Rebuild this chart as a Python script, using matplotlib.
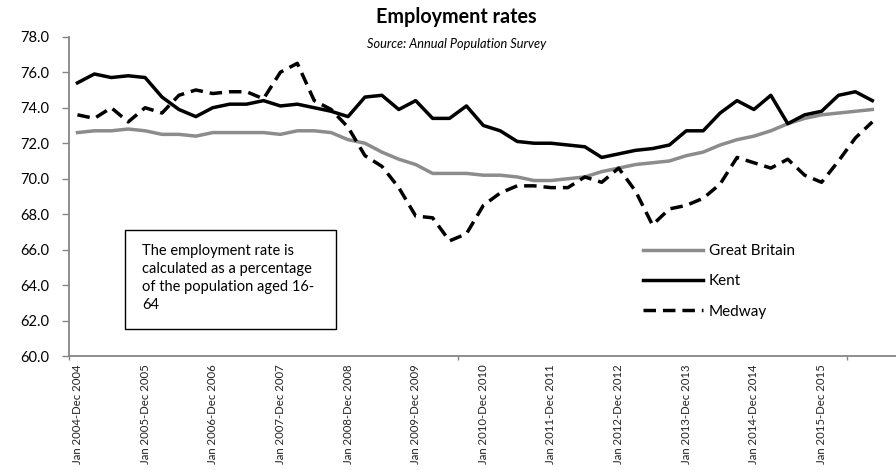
import matplotlib
matplotlib.use("Agg")
import matplotlib.pyplot as plt
from matplotlib.ticker import FixedLocator, FormatStrFormatter

plt.rcParams['font.family'] = ['Lato', 'DejaVu Sans']

categories = [
    "Jan 2004-Dec 2004", "Apr 2004-Mar 2005", "Jul 2004-Jun 2005", "Oct 2004-Sep 2005",
    "Jan 2005-Dec 2005", "Apr 2005-Mar 2006", "Jul 2005-Jun 2006", "Oct 2005-Sep 2006",
    "Jan 2006-Dec 2006", "Apr 2006-Mar 2007", "Jul 2006-Jun 2007", "Oct 2006-Sep 2007",
    "Jan 2007-Dec 2007", "Apr 2007-Mar 2008", "Jul 2007-Jun 2008", "Oct 2007-Sep 2008",
    "Jan 2008-Dec 2008", "Apr 2008-Mar 2009", "Jul 2008-Jun 2009", "Oct 2008-Sep 2009",
    "Jan 2009-Dec 2009", "Apr 2009-Mar 2010", "Jul 2009-Jun 2010", "Oct 2009-Sep 2010",
    "Jan 2010-Dec 2010", "Apr 2010-Mar 2011", "Jul 2010-Jun 2011", "Oct 2010-Sep 2011",
    "Jan 2011-Dec 2011", "Apr 2011-Mar 2012", "Jul 2011-Jun 2012", "Oct 2011-Sep 2012",
    "Jan 2012-Dec 2012", "Apr 2012-Mar 2013", "Jul 2012-Jun 2013", "Oct 2012-Sep 2013",
    "Jan 2013-Dec 2013", "Apr 2013-Mar 2014", "Jul 2013-Jun 2014", "Oct 2013-Sep 2014",
    "Jan 2014-Dec 2014", "Apr 2014-Mar 2015", "Jul 2014-Jun 2015", "Oct 2014-Sep 2015",
    "Jan 2015-Dec 2015", "Apr 2015-Mar 2016", "Jul 2015-Jun 2016", "Oct 2015-Sep 2016",
]

great_britain = [72.6, 72.7, 72.7, 72.8, 72.7, 72.5, 72.5, 72.4, 72.6, 72.6, 72.6, 72.6,
                 72.5, 72.7, 72.7, 72.6, 72.2, 72.0, 71.5, 71.1, 70.8, 70.3, 70.3, 70.3,
                 70.2, 70.2, 70.1, 69.9, 69.9, 70.0, 70.1, 70.4, 70.6, 70.8, 70.9, 71.0,
                 71.3, 71.5, 71.9, 72.2, 72.4, 72.7, 73.1, 73.4, 73.6, 73.7, 73.8, 73.9]

kent = [75.4, 75.9, 75.7, 75.8, 75.7, 74.6, 73.9, 73.5, 74.0, 74.2, 74.2, 74.4,
        74.1, 74.2, 74.0, 73.8, 73.5, 74.6, 74.7, 73.9, 74.4, 73.4, 73.4, 74.1,
        73.0, 72.7, 72.1, 72.0, 72.0, 71.9, 71.8, 71.2, 71.4, 71.6, 71.7, 71.9,
        72.7, 72.7, 73.7, 74.4, 73.9, 74.7, 73.1, 73.6, 73.8, 74.7, 74.9, 74.4]

medway = [73.6, 73.4, 74.0, 73.2, 74.0, 73.7, 74.7, 75.0, 74.8, 74.9, 74.9, 74.5,
          76.0, 76.5, 74.4, 73.9, 72.9, 71.3, 70.7, 69.5, 67.9, 67.8, 66.5, 66.9,
          68.5, 69.2, 69.6, 69.6, 69.5, 69.5, 70.1, 69.8, 70.6, 69.3, 67.4, 68.3,
          68.5, 68.9, 69.7, 71.2, 70.9, 70.6, 71.1, 70.2, 69.8, 71.0, 72.3, 73.2]

series_names = ["Great Britain", "Kent", "Medway"]
title = "Employment rates"
subtitle = "Source: Annual Population Survey"
note = "The employment rate is\ncalculated as a percentage\nof the population aged 16-\n64"

fig = plt.figure(figsize=(8.96, 4.70), dpi=100)
ax = fig.add_axes([69 / 896, 1 - 356.3 / 470, 1 - 69 / 896, (356.3 - 36.7) / 470])

x = list(range(len(categories)))
ax.plot(x, great_britain, color="#8c8c8c", lw=2.5, label=series_names[0], solid_joinstyle="round")
ax.plot(x, kent, color="black", lw=2.5, label=series_names[1], solid_joinstyle="round")
ax.plot(x, medway, color="black", lw=2.5, label=series_names[2], dashes=(3.6, 2.0))

ax.set_ylim(60, 78)
ax.set_xlim(-0.5, 48.4)
ax.yaxis.set_major_locator(FixedLocator([60, 62, 64, 66, 68, 70, 72, 74, 76, 78]))
ax.yaxis.set_major_formatter(FormatStrFormatter("%.1f"))

label_pos = x[::4]
ax.set_xticks(label_pos)
ax.set_xticklabels([categories[i] for i in label_pos], rotation=90, fontsize=8.2, color="#222222")
ax.set_xticks([-0.5, 22.5, 45.5], minor=True)
ax.tick_params(axis="x", which="major", length=0, pad=6)
ax.tick_params(axis="x", which="minor", length=3, color="#868686", width=1)
ax.tick_params(axis="y", length=5, color="#868686", width=1, labelsize=10.5, pad=9)

for s in ["top", "right"]:
    ax.spines[s].set_visible(False)
for s in ["left", "bottom"]:
    ax.spines[s].set_color("#868686")
    ax.spines[s].set_linewidth(1.3)

fig.text(456 / 896, 1 - 17 / 470, title, ha="center", va="center", fontsize=14.2, fontweight="bold")
fig.text(457 / 896, 1 - 44 / 470, subtitle, ha="center", va="center", fontsize=9.2, style="italic")

fig.text(142 / 896, 1 - 244 / 470, note, ha="left", va="top", fontsize=10.5, linespacing=1.35)
rect = plt.Rectangle((125 / 896, 1 - 329 / 470), (336 - 125) / 896, (329 - 230) / 470,
                     transform=fig.transFigure, fill=False, ec="black", lw=1.0)
fig.patches.append(rect)

leg = ax.legend(loc="upper left", bbox_to_anchor=(643 / 896, 1 - 244 / 470),
                bbox_transform=fig.transFigure, frameon=False, fontsize=11,
                handlelength=3.9, handletextpad=0.4, labelspacing=1.07,
                borderpad=0, borderaxespad=0)

fig.savefig("out.png", dpi=100)
